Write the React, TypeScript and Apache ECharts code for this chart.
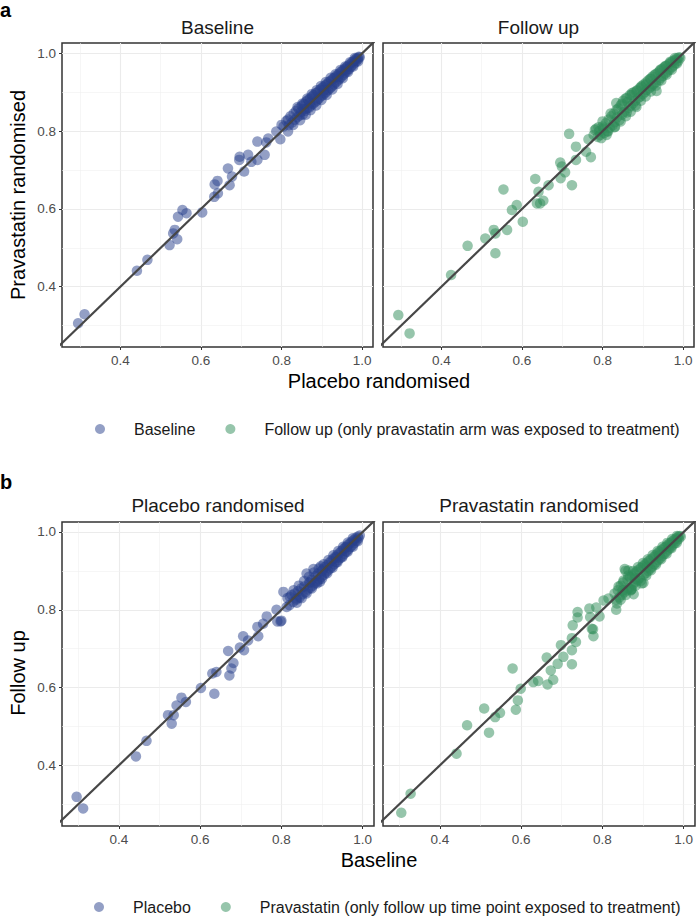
import React, { useEffect, useRef } from "react";
import * as echarts from "echarts";

// ---------- data ----------
// Panel a, facet "Baseline": x = placebo randomised, y = pravastatin randomised
const panelABaseline: number[][] = [
  [0.295, 0.306], [0.311, 0.329], [0.441, 0.441], [0.467, 0.469], [0.522, 0.507],
  [0.531, 0.537], [0.535, 0.546], [0.541, 0.522], [0.543, 0.58], [0.554, 0.597],
  [0.564, 0.589], [0.603, 0.591], [0.633, 0.631], [0.634, 0.663], [0.641, 0.672],
  [0.642, 0.64], [0.667, 0.704], [0.671, 0.661], [0.677, 0.683], [0.696, 0.734],
  [0.695, 0.726], [0.707, 0.696], [0.717, 0.739], [0.725, 0.721], [0.74, 0.726],
  [0.74, 0.773], [0.758, 0.739], [0.762, 0.771], [0.767, 0.781], [0.787, 0.799],
  [0.797, 0.779], [0.8, 0.816], [0.816, 0.799], [0.816, 0.83], [0.829, 0.816],
  [0.805, 0.812], [0.812, 0.826], [0.818, 0.815], [0.822, 0.838], [0.826, 0.822],
  [0.83, 0.845], [0.833, 0.829], [0.836, 0.852], [0.839, 0.836], [0.842, 0.858],
  [0.845, 0.84], [0.848, 0.849], [0.85, 0.865], [0.853, 0.843], [0.856, 0.87],
  [0.858, 0.852], [0.861, 0.876], [0.863, 0.858], [0.866, 0.88], [0.868, 0.86],
  [0.871, 0.884], [0.873, 0.866], [0.876, 0.889], [0.878, 0.87], [0.88, 0.893],
  [0.883, 0.874], [0.885, 0.898], [0.888, 0.879], [0.89, 0.9], [0.892, 0.883],
  [0.895, 0.906], [0.897, 0.889], [0.9, 0.91], [0.902, 0.892], [0.904, 0.914],
  [0.907, 0.897], [0.909, 0.918], [0.911, 0.901], [0.914, 0.922], [0.916, 0.906],
  [0.918, 0.927], [0.921, 0.911], [0.923, 0.93], [0.925, 0.915], [0.928, 0.935],
  [0.93, 0.92], [0.932, 0.938], [0.935, 0.925], [0.937, 0.943], [0.94, 0.93],
  [0.942, 0.947], [0.944, 0.935], [0.947, 0.952], [0.949, 0.94], [0.951, 0.955],
  [0.954, 0.945], [0.956, 0.96], [0.958, 0.95], [0.961, 0.964], [0.963, 0.955],
  [0.965, 0.968], [0.968, 0.96], [0.97, 0.972], [0.972, 0.965], [0.975, 0.977],
  [0.977, 0.97], [0.979, 0.98], [0.981, 0.975], [0.984, 0.985], [0.986, 0.98],
  [0.988, 0.988], [0.99, 0.985], [0.992, 0.991], [0.994, 0.99],
  [0.84, 0.862], [0.852, 0.871], [0.864, 0.884], [0.875, 0.895], [0.887, 0.905],
  [0.898, 0.916], [0.91, 0.926], [0.922, 0.937], [0.934, 0.946], [0.946, 0.957],
  [0.958, 0.966], [0.97, 0.977], [0.982, 0.988], [0.846, 0.828], [0.86, 0.842],
  [0.872, 0.854], [0.886, 0.866], [0.899, 0.88], [0.912, 0.893], [0.926, 0.907],
  [0.939, 0.921], [0.952, 0.936], [0.965, 0.952], [0.978, 0.966], [0.99, 0.979],
  [0.87, 0.872], [0.905, 0.905], [0.94, 0.94], [0.96, 0.958], [0.855, 0.856],
];

// Panel a, facet "Follow up"
const panelAFollowUp: number[][] = [
  [0.293, 0.327], [0.321, 0.28], [0.424, 0.43], [0.465, 0.505], [0.509, 0.524],
  [0.53, 0.546], [0.534, 0.537], [0.534, 0.486], [0.554, 0.65], [0.563, 0.546],
  [0.575, 0.597], [0.587, 0.61], [0.602, 0.567], [0.633, 0.677], [0.641, 0.644],
  [0.637, 0.614], [0.645, 0.614], [0.653, 0.621], [0.666, 0.661], [0.695, 0.719],
  [0.699, 0.709], [0.707, 0.694], [0.696, 0.679], [0.717, 0.793], [0.724, 0.661],
  [0.734, 0.76], [0.734, 0.726], [0.759, 0.747], [0.771, 0.733], [0.765, 0.779],
  [0.781, 0.803], [0.794, 0.79], [0.802, 0.807], [0.814, 0.799], [0.831, 0.811],
  [0.778, 0.79], [0.784, 0.806], [0.788, 0.785], [0.792, 0.8], [0.797, 0.782],
  [0.8, 0.812], [0.804, 0.795], [0.808, 0.82], [0.812, 0.8], [0.815, 0.83],
  [0.818, 0.808], [0.822, 0.838], [0.825, 0.815], [0.828, 0.845], [0.83, 0.823],
  [0.834, 0.872], [0.836, 0.835], [0.839, 0.858], [0.842, 0.828], [0.845, 0.866],
  [0.848, 0.842], [0.851, 0.878], [0.854, 0.85], [0.857, 0.884], [0.86, 0.848],
  [0.862, 0.875], [0.865, 0.86], [0.868, 0.893], [0.87, 0.865], [0.873, 0.898],
  [0.876, 0.871], [0.878, 0.9], [0.881, 0.878], [0.884, 0.862], [0.886, 0.905],
  [0.889, 0.885], [0.892, 0.91], [0.894, 0.889], [0.897, 0.916], [0.9, 0.895],
  [0.902, 0.92], [0.905, 0.9], [0.908, 0.925], [0.91, 0.906], [0.913, 0.93],
  [0.916, 0.91], [0.918, 0.934], [0.921, 0.915], [0.924, 0.94], [0.926, 0.92],
  [0.929, 0.944], [0.932, 0.925], [0.934, 0.903], [0.937, 0.95], [0.94, 0.93],
  [0.942, 0.955], [0.945, 0.937], [0.948, 0.96], [0.95, 0.942], [0.953, 0.964],
  [0.956, 0.948], [0.958, 0.968], [0.961, 0.953], [0.964, 0.972], [0.966, 0.958],
  [0.969, 0.976], [0.972, 0.964], [0.974, 0.98], [0.977, 0.969], [0.98, 0.983],
  [0.982, 0.975], [0.985, 0.987], [0.988, 0.981], [0.99, 0.99], [0.993, 0.988],
  [0.82, 0.845], [0.835, 0.855], [0.848, 0.87], [0.86, 0.885], [0.872, 0.893],
  [0.884, 0.903], [0.896, 0.913], [0.908, 0.92], [0.92, 0.935], [0.932, 0.947],
  [0.944, 0.958], [0.956, 0.967], [0.968, 0.978], [0.98, 0.988], [0.83, 0.81],
  [0.845, 0.825], [0.858, 0.838], [0.87, 0.85], [0.882, 0.866], [0.895, 0.878],
  [0.907, 0.889], [0.92, 0.902], [0.933, 0.917], [0.946, 0.93], [0.959, 0.945],
  [0.972, 0.958], [0.985, 0.974], [0.8, 0.825], [0.81, 0.79], [0.79, 0.81],
];

// Panel b, facet "Placebo randomised": x = baseline, y = follow up
const panelBPlacebo: number[][] = [
  [0.296, 0.319], [0.312, 0.289], [0.442, 0.423], [0.468, 0.463], [0.521, 0.529],
  [0.53, 0.507], [0.535, 0.529], [0.542, 0.554], [0.554, 0.574], [0.565, 0.563],
  [0.602, 0.599], [0.635, 0.584], [0.63, 0.636], [0.64, 0.64], [0.672, 0.631],
  [0.677, 0.649], [0.682, 0.663], [0.669, 0.694], [0.698, 0.703], [0.706, 0.732],
  [0.708, 0.696], [0.718, 0.721], [0.741, 0.756], [0.743, 0.732], [0.764, 0.783],
  [0.755, 0.764], [0.788, 0.8], [0.79, 0.77], [0.798, 0.77], [0.805, 0.846],
  [0.813, 0.807], [0.821, 0.833], [0.838, 0.829], [0.8, 0.772],
  [0.815, 0.83], [0.82, 0.812], [0.825, 0.838], [0.829, 0.82], [0.833, 0.842],
  [0.837, 0.826], [0.841, 0.848], [0.845, 0.832], [0.849, 0.855], [0.852, 0.84],
  [0.856, 0.86], [0.859, 0.845], [0.862, 0.893], [0.865, 0.852], [0.868, 0.87],
  [0.871, 0.856], [0.874, 0.877], [0.877, 0.862], [0.879, 0.905], [0.882, 0.868],
  [0.885, 0.887], [0.888, 0.873], [0.89, 0.893], [0.893, 0.878], [0.895, 0.872],
  [0.897, 0.912], [0.899, 0.885], [0.902, 0.904], [0.905, 0.89], [0.907, 0.91],
  [0.91, 0.896], [0.913, 0.915], [0.915, 0.901], [0.918, 0.921], [0.92, 0.906],
  [0.923, 0.926], [0.925, 0.912], [0.928, 0.931], [0.93, 0.917], [0.933, 0.936],
  [0.935, 0.922], [0.938, 0.941], [0.94, 0.928], [0.943, 0.946], [0.945, 0.933],
  [0.948, 0.951], [0.95, 0.938], [0.953, 0.956], [0.955, 0.944], [0.958, 0.961],
  [0.96, 0.95], [0.963, 0.966], [0.965, 0.955], [0.968, 0.97], [0.97, 0.961],
  [0.973, 0.975], [0.975, 0.966], [0.978, 0.979], [0.98, 0.972], [0.983, 0.984],
  [0.985, 0.978], [0.988, 0.988], [0.99, 0.984], [0.993, 0.991],
  [0.83, 0.85], [0.843, 0.862], [0.856, 0.874], [0.868, 0.885], [0.88, 0.896],
  [0.892, 0.906], [0.904, 0.917], [0.916, 0.928], [0.928, 0.94], [0.94, 0.951],
  [0.952, 0.962], [0.964, 0.973], [0.976, 0.984], [0.838, 0.818], [0.85, 0.83],
  [0.862, 0.842], [0.875, 0.855], [0.888, 0.868], [0.9, 0.88], [0.913, 0.894],
  [0.926, 0.908], [0.938, 0.922], [0.95, 0.935], [0.963, 0.949], [0.976, 0.962],
  [0.988, 0.976], [0.87, 0.87], [0.9, 0.9], [0.935, 0.934], [0.96, 0.96],
];

// Panel b, facet "Pravastatin randomised"
const panelBPravastatin: number[][] = [
  [0.305, 0.278], [0.328, 0.327], [0.441, 0.43], [0.467, 0.503], [0.509, 0.546],
  [0.521, 0.484], [0.536, 0.524], [0.548, 0.535], [0.579, 0.649], [0.587, 0.543],
  [0.592, 0.567], [0.599, 0.597], [0.63, 0.614], [0.642, 0.617], [0.663, 0.677],
  [0.665, 0.608], [0.673, 0.644], [0.679, 0.62], [0.69, 0.661], [0.698, 0.709],
  [0.704, 0.679], [0.725, 0.696], [0.725, 0.66], [0.725, 0.727], [0.735, 0.717],
  [0.727, 0.76], [0.739, 0.794], [0.739, 0.78], [0.768, 0.803], [0.77, 0.781],
  [0.774, 0.751], [0.778, 0.732], [0.793, 0.783], [0.803, 0.824], [0.815, 0.829],
  [0.834, 0.8], [0.836, 0.816], [0.877, 0.84], [0.864, 0.901], [0.901, 0.869],
  [0.785, 0.806], [0.777, 0.75], [0.855, 0.905], [0.872, 0.853],
  [0.83, 0.842], [0.834, 0.825], [0.838, 0.85], [0.842, 0.832], [0.845, 0.862],
  [0.848, 0.838], [0.851, 0.87], [0.854, 0.845], [0.857, 0.9], [0.86, 0.85],
  [0.862, 0.878], [0.865, 0.855], [0.868, 0.884], [0.871, 0.852], [0.873, 0.888],
  [0.876, 0.866], [0.879, 0.893], [0.881, 0.872], [0.884, 0.898], [0.887, 0.876],
  [0.889, 0.903], [0.892, 0.882], [0.895, 0.908], [0.897, 0.868], [0.9, 0.912],
  [0.902, 0.89], [0.905, 0.917], [0.908, 0.895], [0.91, 0.921], [0.913, 0.9],
  [0.915, 0.926], [0.918, 0.906], [0.92, 0.93], [0.923, 0.911], [0.926, 0.935],
  [0.928, 0.917], [0.931, 0.94], [0.933, 0.922], [0.936, 0.945], [0.938, 0.928],
  [0.941, 0.95], [0.943, 0.933], [0.946, 0.954], [0.948, 0.939], [0.951, 0.958],
  [0.953, 0.944], [0.956, 0.962], [0.958, 0.95], [0.961, 0.967], [0.963, 0.955],
  [0.966, 0.971], [0.968, 0.96], [0.971, 0.975], [0.973, 0.966], [0.976, 0.979],
  [0.978, 0.971], [0.981, 0.983], [0.983, 0.977], [0.986, 0.987], [0.988, 0.982],
  [0.99, 0.99], [0.993, 0.988],
  [0.84, 0.86], [0.852, 0.875], [0.864, 0.888], [0.876, 0.9], [0.888, 0.91],
  [0.9, 0.92], [0.912, 0.93], [0.924, 0.941], [0.936, 0.951], [0.948, 0.962],
  [0.96, 0.972], [0.972, 0.982], [0.984, 0.99], [0.845, 0.826], [0.858, 0.838],
  [0.87, 0.85], [0.882, 0.862], [0.895, 0.875], [0.908, 0.888], [0.92, 0.902],
  [0.932, 0.916], [0.945, 0.93], [0.958, 0.944], [0.97, 0.958], [0.983, 0.972],
  [0.88, 0.88], [0.91, 0.91], [0.94, 0.94], [0.965, 0.965], [0.85, 0.85],
];

const tickValues = [0.4, 0.6, 0.8, 1.0];
const minorValues = [0.3, 0.5, 0.7, 0.9];
const identityEnds = [0.2, 1.1];

const facetTitles = ["Baseline", "Follow up", "Placebo randomised", "Pravastatin randomised"];
const seriesNames = [
  "Baseline",
  "Follow up (only pravastatin arm was exposed to treatment)",
  "Placebo",
  "Pravastatin (only follow up time point exposed to treatment)",
];
const facetData = [panelABaseline, panelAFollowUp, panelBPlacebo, panelBPravastatin];

const BLUE = "#27408B";
const GREEN = "#2E8B57";
const FONT = '"Liberation Sans", Arial, Helvetica, sans-serif';

export default function App() {
  const ref = useRef<HTMLDivElement>(null);

  useEffect(() => {
    if (!ref.current) return;
    const chart = echarts.init(ref.current, null, { renderer: "svg" });

    const grids = [
      { left: 62, top: 43, width: 311, height: 304 },
      { left: 383, top: 43, width: 311, height: 304 },
      { left: 62, top: 522, width: 312, height: 304 },
      { left: 383, top: 522, width: 312, height: 304 },
    ];
    const xRanges = [
      [0.255, 1.027],
      [0.255, 1.027],
      [0.26, 1.028],
      [0.26, 1.028],
    ];
    const yRanges = [
      [0.245, 1.0265],
      [0.245, 1.0265],
      [0.244, 1.0257],
      [0.244, 1.0257],
    ];
    const colors = [BLUE, GREEN, BLUE, GREEN];

    const xAxis = grids.map((_, i) => ({
      type: "value",
      gridIndex: i,
      min: xRanges[i][0],
      max: xRanges[i][1],
      axisLine: { show: false },
      splitLine: { show: false },
      axisTick: {
        show: true,
        customValues: tickValues,
        length: 3,
        lineStyle: { color: "#333333", width: 1 },
      },
      axisLabel: {
        customValues: tickValues,
        color: "#4d4d4d",
        fontSize: 13.5,
        fontFamily: FONT,
        margin: 6,
        formatter: (v: number) => v.toFixed(1),
      },
    }));
    const yAxis = grids.map((_, i) => ({
      type: "value",
      gridIndex: i,
      min: yRanges[i][0],
      max: yRanges[i][1],
      axisLine: { show: false },
      splitLine: { show: false },
      axisTick: {
        show: i % 2 === 0,
        customValues: tickValues,
        length: 3,
        lineStyle: { color: "#333333", width: 1 },
      },
      axisLabel: {
        show: i % 2 === 0,
        customValues: tickValues,
        color: "#4d4d4d",
        fontSize: 13.5,
        fontFamily: FONT,
        margin: 6,
        formatter: (v: number) => v.toFixed(1),
      },
    }));

    const gridLines: any[] = [];
    tickValues.forEach((v) => {
      gridLines.push({ xAxis: v, lineStyle: { color: "#ebebeb", width: 1.1, type: "solid" } });
      gridLines.push({ yAxis: v, lineStyle: { color: "#ebebeb", width: 1.1, type: "solid" } });
    });
    minorValues.forEach((v) => {
      gridLines.push({ xAxis: v, lineStyle: { color: "#f0f0f0", width: 0.6, type: "solid" } });
      gridLines.push({ yAxis: v, lineStyle: { color: "#f0f0f0", width: 0.6, type: "solid" } });
    });

    const series: any[] = [];
    grids.forEach((_, i) => {
      series.push({
        type: "line",
        name: "grid" + i,
        xAxisIndex: i,
        yAxisIndex: i,
        data: identityEnds.map((v) => [v, v]),
        symbol: "none",
        lineStyle: { opacity: 0 },
        silent: true,
        z: 0,
        markLine: {
          silent: true,
          symbol: "none",
          z: 0,
          label: { show: false },
          emphasis: { disabled: true },
          data: gridLines,
        },
      });
      series.push({
        type: "scatter",
        name: seriesNames[i],
        xAxisIndex: i,
        yAxisIndex: i,
        data: facetData[i],
        symbol: "circle",
        symbolSize: 10.5,
        itemStyle: { color: colors[i], opacity: 0.5 },
        silent: true,
        z: 2,
      });
      series.push({
        type: "line",
        name: "identity" + i,
        xAxisIndex: i,
        yAxisIndex: i,
        data: identityEnds.map((v) => [v, v]),
        symbol: "none",
        clip: true,
        lineStyle: { color: "#474747", width: 2.2 },
        silent: true,
        z: 3,
      });
    });

    const txt = (x: number, y: number, text: string, size: number, extra: any = {}) => ({
      type: "text",
      x,
      y,
      silent: true,
      ...extra,
      style: {
        text,
        fill: extra.fill || "#1a1a1a",
        font: `${extra.weight || "normal"} ${size}px ${FONT}`,
        align: extra.align || "center",
        verticalAlign: extra.vAlign || "middle",
      },
    });

    const legendCommon = {
      orient: "horizontal",
      icon: "circle",
      itemWidth: 10,
      itemHeight: 10,
      itemGap: 30,
      padding: 0,
      selectedMode: false,
      textStyle: { fontSize: 16, color: "#1a1a1a", fontFamily: FONT, padding: [0, 0, 0, 24] },
    };

    chart.setOption({
      animation: false,
      backgroundColor: "#ffffff",
      grid: grids.map((g) => ({
        ...g,
        show: true,
        borderColor: "#333333",
        borderWidth: 1.5,
        backgroundColor: "transparent",
        containLabel: false,
      })),
      xAxis,
      yAxis,
      legend: [
        { ...legendCommon, data: [seriesNames[0], seriesNames[1]], left: 95, top: 421 },
        { ...legendCommon, data: [seriesNames[2], seriesNames[3]], left: 94, top: 899 },
      ],
      series,
      graphic: [
        txt(0, 0, "a", 20, { weight: "bold", align: "left", vAlign: "top", fill: "#000" }),
        txt(0, 472, "b", 20, { weight: "bold", align: "left", vAlign: "top", fill: "#000" }),
        txt(217.5, 27, facetTitles[0], 19),
        txt(538.5, 27, facetTitles[1], 19),
        txt(218, 505, facetTitles[2], 19),
        txt(539, 505, facetTitles[3], 19),
        txt(379, 381, "Placebo randomised", 20, { fill: "#000" }),
        txt(379, 860, "Baseline", 20, { fill: "#000" }),
        txt(18, 195, "Pravastatin randomised", 20, { rotation: Math.PI / 2, fill: "#000" }),
        txt(18, 673, "Follow up", 20, { rotation: Math.PI / 2, fill: "#000" }),
      ],
    });

    return () => chart.dispose();
  }, []);

  return (
    <div
      ref={ref}
      style={{ position: "absolute", left: 0, top: 0, width: 696, height: 916 }}
    />
  );
}
